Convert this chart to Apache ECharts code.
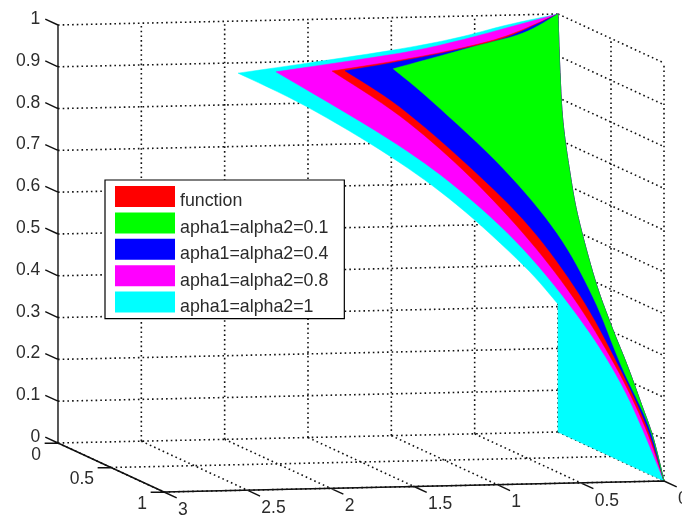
<!DOCTYPE html>
<html>
<head>
<meta charset="utf-8">
<style>html,body{margin:0;padding:0;background:#fff}#c{width:682px;height:520px}</style>
<script src="https://cdn.jsdelivr.net/npm/echarts@6/dist/echarts.min.js"></script>
</head>
<body>
<div id="c"></div>
<script>
// Tick labels of the three axes
var xTicks = [3, 2.5, 2, 1.5, 1, 0.5, 0];
var yTicks = [0, 0.5, 1];
var zTicks = [0, 0.1, 0.2, 0.3, 0.4, 0.5, 0.6, 0.7, 0.8, 0.9, 1];

// Series names
var names = ['function', 'apha1=alpha2=0.1', 'apha1=alpha2=0.4', 'apha1=alpha2=0.8', 'apha1=alpha2=1'];

// Surface outlines as [x, y, z]
var apex = [0, 0, 1];
var foot = [0, 1, 0];
var rightEdge = [foot,[0,0.896,0.093],[0,0.783,0.161],[0,0.651,0.237],[0,0.5,0.315],[0,0.349,0.405],[0,0.189,0.537],[0,0.113,0.633],[0,0.047,0.747],[0,0.019,0.863],apex];

var cyanUpper = [apex,[0.319,0.021,0.979],[0.635,0.046,0.954],[0.99,0.067,0.933],[1.564,0.093,0.907],[1.99,0.111,0.889]];
var cyanLower = [[1.99,0.111,0.889],[1.624,0.186,0.814],[1.196,0.295,0.705],[0.862,0.402,0.598],[0.549,0.533,0.467],[0,0,0.306]];
var cyanPanel = [[0,0,0.306],[0,0,0],foot];

var magentaUpper = [apex,[0.323,0.027,0.973],[0.64,0.053,0.947],[0.996,0.076,0.924],[1.762,0.11,0.89]];
var magentaLower = [[1.762,0.11,0.89],[1.189,0.256,0.744],[0.839,0.366,0.634],[0.527,0.499,0.501],[0.27,0.66,0.34],[0.108,0.811,0.189],foot];

var redUpper = [apex,[0.334,0.044,0.956],[0.65,0.07,0.93],[1.006,0.091,0.909],[1.426,0.111,0.889]];
var redLower = [[1.426,0.111,0.889],[1.082,0.21,0.79],[0.779,0.328,0.672],[0.506,0.465,0.535],[0.294,0.604,0.396],[0.136,0.751,0.249],[0.04,0.884,0.116],foot];

var blueUpper = [apex,[0.335,0.047,0.953],[0.652,0.072,0.928],[1.069,0.097,0.903],[1.348,0.111,0.889]];
var blueLower = [[1.348,0.111,0.889],[1.069,0.191,0.809],[0.733,0.322,0.678],[0.456,0.453,0.547],[0.25,0.6,0.4],[0.115,0.751,0.249],[0.028,0.884,0.116],foot];

var greenUpper = [apex,[0.235,0.039,0.961],[0.551,0.066,0.934],[1.058,0.109,0.891]];
var greenLower = [[1.058,0.109,0.891],[0.866,0.182,0.818],[0.538,0.326,0.674],[0.303,0.467,0.533],[0.175,0.605,0.395],[0.1,0.751,0.249],[0.016,0.884,0.116],foot];

// View of the 3-D box on the page
function project(p) {
  return [558 - 166.67 * p[0] + 106 * p[1], 432 + 3.67 * p[0] + 49 * p[1] - 418 * p[2]];
}

function segments(list) {
  var out = [];
  list.forEach(function (s) {
    out.push(project(s[0]), project(s[1]), ['-', '-']);
  });
  return out;
}

var dotted = [];
zTicks.forEach(function (z) {
  dotted.push([[3, 0, z], [0, 0, z]], [[0, 0, z], [0, 1, z]]);
});
xTicks.forEach(function (x) {
  if (x !== 3) dotted.push([[x, 0, 0], [x, 0, 1]]);
  dotted.push([[x, 0, 0], [x, 1, 0]]);
});
yTicks.forEach(function (y) {
  dotted.push([[0, y, 0], [0, y, 1]], [[3, y, 0], [0, y, 0]]);
});

var solid = [
  [[3, 0, 0], [3, 0, 1]],
  [[3, 0, 0], [3, 1, 0]],
  [[3, 1, 0], [0, 1, 0]]
];
zTicks.forEach(function (z) { solid.push([[3, 0, z], [3, -0.12, z]]); });
yTicks.forEach(function (y) { solid.push([[3, y, 0], [3.08, y, 0]]); });
xTicks.forEach(function (x) { solid.push([[x, 1, 0], [x, 1.12, 0]]); });

// Smooth rendering of one stretch of outline between its read points
function curve(pts) {
  var out = [];
  for (var i = 0; i < pts.length - 1; i++) {
    var p0 = pts[Math.max(i - 1, 0)], p1 = pts[i], p2 = pts[i + 1], p3 = pts[Math.min(i + 2, pts.length - 1)];
    for (var k = 0; k < 8; k++) {
      var t = k / 8, t2 = t * t, t3 = t2 * t;
      out.push([0, 1].map(function (d) {
        return 0.5 * (2 * p1[d] + (p2[d] - p0[d]) * t + (2 * p0[d] - 5 * p1[d] + 4 * p2[d] - p3[d]) * t2 + (3 * p1[d] - p0[d] - 3 * p2[d] + p3[d]) * t3);
      }));
    }
  }
  out.push(pts[pts.length - 1]);
  return out;
}

function surface(name, color, stretches, z) {
  var sections = stretches.map(function (s) { return s.map(project); });
  var rows = [].concat.apply([], sections);
  return {
    type: 'custom', name: name, coordinateSystem: 'cartesian2d', silent: true, clip: false, z: z,
    itemStyle: { color: color },
    data: rows,
    renderItem: function (params, api) {
      if (params.dataIndex !== 0) return null;
      var pts = [];
      sections.forEach(function (s, i) {
        var c = i === 3 ? s : curve(s);
        pts = pts.concat(c);
      });
      return {
        type: 'polygon',
        shape: { points: pts.map(function (p) { return api.coord(p); }) },
        style: { fill: color, stroke: color, lineWidth: 0.5 }
      };
    }
  };
}

function labels(ticks, pos, align, dx, dy) {
  var pts = ticks.map(function (t) { return project(pos(t)); });
  return {
    type: 'custom', coordinateSystem: 'cartesian2d', silent: true, clip: false, z: 20,
    data: pts,
    renderItem: function (params, api) {
      var c = api.coord(pts[params.dataIndex]);
      return {
        type: 'text', x: c[0] + dx, y: c[1] + dy,
        style: {
          text: String(ticks[params.dataIndex]), fill: '#2b2b2b',
          font: '17.5px "Liberation Sans", Arial, sans-serif',
          textAlign: align, textVerticalAlign: 'middle'
        }
      };
    }
  };
}

var option = {
  backgroundColor: '#fff',
  animation: false,
  grid: { left: 0, right: 0, top: 0, bottom: 0 },
  xAxis: { type: 'value', min: 0, max: 682, show: false },
  yAxis: { type: 'value', min: 0, max: 520, inverse: true, show: false },
  legend: {
    orient: 'vertical', left: 105, top: 180, z: 30,
    data: names, icon: 'rect', selectedMode: false,
    itemWidth: 60, itemHeight: 21, itemGap: -1.6,
    padding: [2.5, 16, 2.5, 10],
    backgroundColor: '#fff', borderColor: '#000', borderWidth: 1.2,
    formatter: function (name) { return '{a|' + name + '}'; },
    textStyle: {
      rich: { a: { color: '#2b2b2b', fontFamily: '"Liberation Sans", Arial, sans-serif', fontSize: 17.8, lineHeight: 18, padding: [10, 0, 0, 0] } }
    }
  },
  series: [
    { type: 'line', silent: true, symbol: 'none', connectNulls: false, clip: false, z: 1,
      lineStyle: { color: '#111', width: 1.6, type: [1.6, 3.1] }, data: segments(dotted) },
    surface(names[4], '#00ffff', [rightEdge, cyanUpper, cyanLower, cyanPanel], 2),
    surface(names[3], '#ff00ff', [rightEdge, magentaUpper, magentaLower], 3),
    surface(names[0], '#ff0000', [rightEdge, redUpper, redLower], 4),
    surface(names[2], '#0000ff', [rightEdge, blueUpper, blueLower], 5),
    surface(names[1], '#00ff00', [rightEdge, greenUpper, greenLower], 6),
    { type: 'line', silent: true, symbol: 'none', connectNulls: false, clip: false, z: 10,
      lineStyle: { color: '#111', width: 1.4 }, data: segments(solid) },
    labels(zTicks, function (z) { return [3, -0.12, z]; }, 'right', -5, 0),
    labels(yTicks, function (y) { return [3, y, 0]; }, 'right', -17, 12),
    labels(xTicks, function (x) { return [x, 1, 0]; }, 'left', 14, 18)
  ]
};
echarts.init(document.getElementById('c')).setOption(option);
</script>
</body>
</html>
